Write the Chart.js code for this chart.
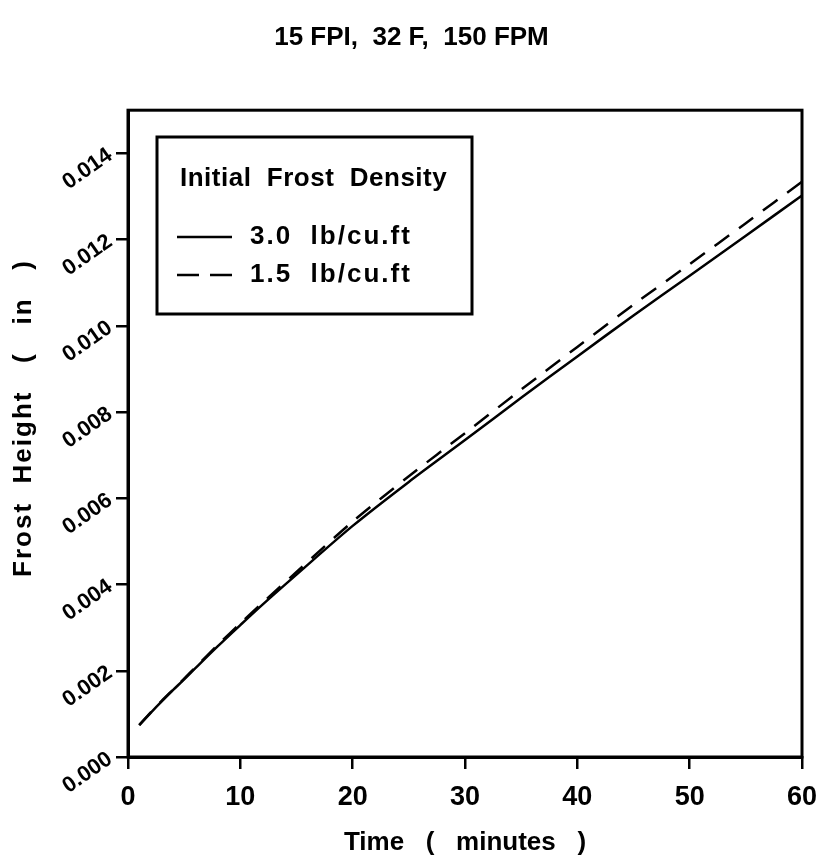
<!DOCTYPE html>
<html><head><meta charset="utf-8">
<script src="https://cdn.jsdelivr.net/npm/chart.js@4/dist/chart.umd.min.js"></script>
<style>html,body{margin:0;padding:0;background:#fff}#wrap{width:823px;height:866px}</style>
</head><body><div id="wrap"><canvas id="c" width="823" height="866"></canvas></div>
<script>
const chartTitle = '15 FPI,  32 F,  150 FPM';
const xAxisTitle = 'Time   (   minutes   )';
const yAxisTitle = 'Frost  Height   (   in   )';
const legendTitle = 'Initial  Frost  Density';
const seriesLabels = ['3.0  lb/cu.ft', '1.5  lb/cu.ft'];
const times = [1, 2, 3, 4, 5, 6, 8, 10, 12, 15, 20, 25, 30, 35, 40, 45, 50, 55, 60];
const density30 = [0.00074, 0.00102, 0.00129, 0.00155, 0.00180, 0.00206, 0.00257, 0.00306, 0.00354, 0.00423, 0.00536, 0.00638, 0.00735, 0.00833, 0.00929, 0.01024, 0.01116, 0.01209, 0.01302];
const density15 = [0.00074, 0.00103, 0.00130, 0.00156, 0.00182, 0.00208, 0.00260, 0.00310, 0.00358, 0.00429, 0.00546, 0.00651, 0.00751, 0.00852, 0.00951, 0.01049, 0.01143, 0.01238, 0.01334];
const xTicks = [0, 10, 20, 30, 40, 50, 60];
const yTicks = [0, 0.002, 0.004, 0.006, 0.008, 0.010, 0.012, 0.014];

const FONT = "'Liberation Sans', Arial, sans-serif";

const framePlugin = {
  id: 'frame',
  afterDatasetsDraw(chart) {
    const {ctx, chartArea: a} = chart;
    ctx.save();
    ctx.strokeStyle = '#000';
    ctx.lineWidth = 3;
    ctx.strokeRect(a.left, a.top, a.right - a.left, a.bottom - a.top);
    ctx.restore();
  }
};

const yTitlePlugin = {
  id: 'yTitle',
  afterDraw(chart) {
    const {ctx} = chart;
    ctx.save();
    ctx.translate(24, 418);
    ctx.rotate(-Math.PI / 2);
    ctx.font = 'bold 26px ' + FONT;
    ctx.letterSpacing = '2px';
    ctx.fillStyle = '#000';
    ctx.textAlign = 'center';
    ctx.textBaseline = 'middle';
    ctx.fillText(yAxisTitle, 0, 0);
    ctx.restore();
  }
};

const legendPlugin = {
  id: 'boxLegend',
  afterDraw(chart) {
    const {ctx} = chart;
    const bx = 157, by = 137, bw = 315, bh = 177;
    ctx.save();
    ctx.fillStyle = '#fff';
    ctx.fillRect(bx, by, bw, bh);
    ctx.strokeStyle = '#000';
    ctx.lineWidth = 3;
    ctx.strokeRect(bx, by, bw, bh);
    ctx.fillStyle = '#000';
    ctx.font = 'bold 26px ' + FONT;
    ctx.textBaseline = 'middle';
    ctx.textAlign = 'left';
    ctx.letterSpacing = '0.5px';
    ctx.fillText(legendTitle, 180, 179);
    ctx.letterSpacing = '2px';
    const rows = [237, 275];
    chart.data.datasets.forEach((ds, i) => {
      const y = rows[i];
      ctx.beginPath();
      ctx.lineWidth = 2.5;
      ctx.setLineDash(i === 0 ? [] : [22, 11]);
      ctx.moveTo(177, y);
      ctx.lineTo(232, y);
      ctx.stroke();
      ctx.setLineDash([]);
      ctx.fillText(ds.label, 250, y);
    });
    ctx.restore();
  }
};

new Chart(document.getElementById('c'), {
  type: 'line',
  data: {
    datasets: [
      { label: seriesLabels[0], data: times.map((t, i) => ({x: t, y: density30[i]})),
        borderColor: '#000', borderWidth: 2.5, pointRadius: 0, tension: 0.3, fill: false },
      { label: seriesLabels[1], data: times.map((t, i) => ({x: t, y: density15[i]})),
        borderColor: '#000', borderWidth: 2.5, borderDash: [18, 12], pointRadius: 0, tension: 0.3, fill: false }
    ]
  },
  options: {
    responsive: false,
    animation: false,
    devicePixelRatio: 1,
    layout: { padding: { left: 21, right: 21, top: 0, bottom: 0 } },
    plugins: {
      legend: { display: false },
      tooltip: { enabled: false },
      title: {
        display: true, text: chartTitle, color: '#000',
        font: { family: FONT, size: 26, weight: 'bold' },
        padding: { top: 22, bottom: 57 }
      }
    },
    scales: {
      x: {
        type: 'linear', min: 0, max: 60,
        afterBuildTicks: (axis) => { axis.ticks = xTicks.map(v => ({value: v})); },
        afterFit: (s) => { s.height = 109; s.paddingLeft = 0; s.paddingRight = 0; },
        ticks: { color: '#000', padding: 12, maxRotation: 0, autoSkip: false,
          font: { family: FONT, size: 27, weight: 'bold' } },
        grid: { drawOnChartArea: false, drawTicks: true, tickLength: 12, color: '#000', lineWidth: 2.5 },
        border: { display: true, color: '#000', width: 3 },
        title: { display: true, text: xAxisTitle, color: '#000', padding: { top: 4, bottom: 8 },
          font: { family: FONT, size: 26, weight: 'bold' } }
      },
      y: {
        type: 'linear', min: 0, max: 0.015,
        afterBuildTicks: (axis) => { axis.ticks = yTicks.map(v => ({value: v})); },
        afterFit: (s) => { s.width = 107; s.paddingTop = 0; s.paddingBottom = 0; },
        ticks: { color: '#000', padding: 6, minRotation: 35, maxRotation: 35, autoSkip: false,
          callback: (v) => Number(v).toFixed(3),
          font: { family: FONT, size: 22, weight: 'bold' } },
        grid: { drawOnChartArea: false, drawTicks: true, tickLength: 12, color: '#000', lineWidth: 2.5 },
        border: { display: true, color: '#000', width: 3 },
        title: { display: false }
      }
    }
  },
  plugins: [framePlugin, yTitlePlugin, legendPlugin]
});
</script>
</body></html>
